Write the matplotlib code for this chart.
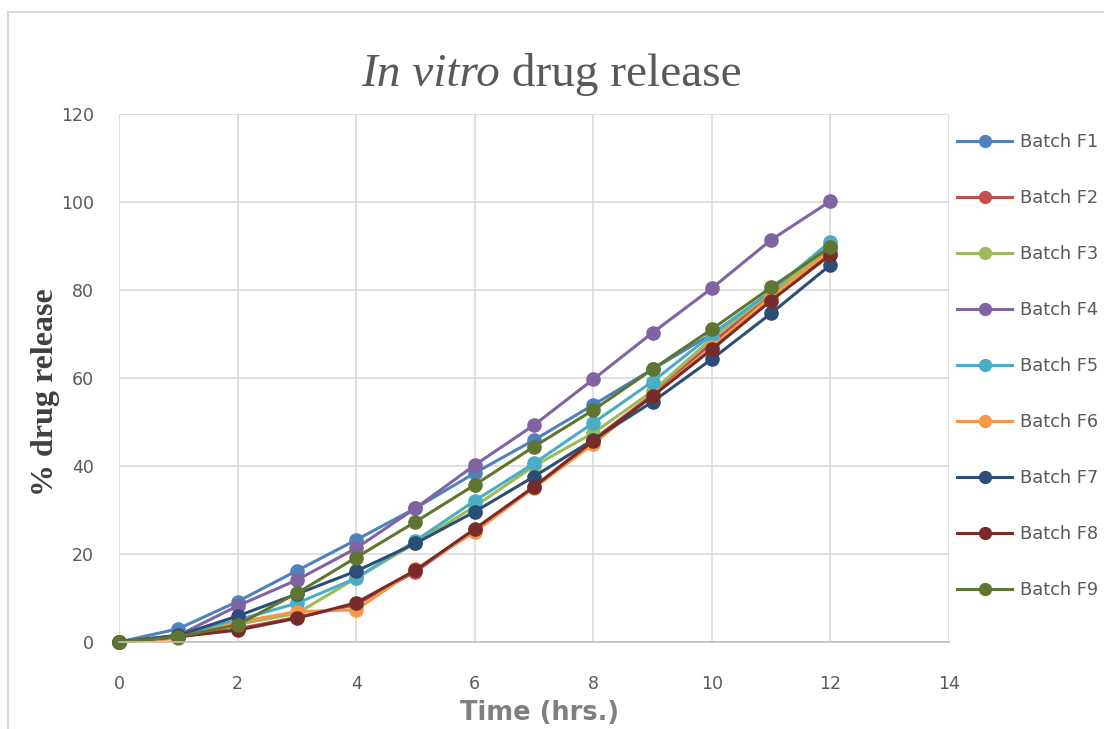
import matplotlib
matplotlib.use("Agg")
import matplotlib.pyplot as plt
from matplotlib.patches import Rectangle

time_hrs = [0, 1, 2, 3, 4, 5, 6, 7, 8, 9, 10, 11, 12]
batch_names = ["Batch F1", "Batch F2", "Batch F3", "Batch F4", "Batch F5",
               "Batch F6", "Batch F7", "Batch F8", "Batch F9"]
f1 = [0, 3.0, 9.2, 16.2, 23.2, 30.4, 38.4, 45.9, 53.9, 62.0, 70.0, 79.5, 90.0]
f2 = [0, 1.2, 3.0, 5.6, 8.5, 16.0, 25.4, 35.2, 46.0, 56.2, 68.0, 78.8, 88.5]
f3 = [0, 1.0, 4.0, 6.5, 14.5, 22.5, 30.8, 40.0, 47.5, 57.0, 69.0, 79.5, 89.5]
f4 = [0, 1.5, 8.2, 14.1, 21.3, 30.4, 40.2, 49.3, 59.7, 70.3, 80.4, 91.4, 100.2]
f5 = [0, 1.5, 5.0, 8.8, 14.5, 23.0, 32.1, 40.6, 49.8, 59.2, 69.8, 79.8, 91.0]
f6 = [0, 0.8, 4.5, 6.9, 7.3, 16.5, 25.0, 35.0, 45.0, 56.0, 67.0, 78.5, 89.0]
f7 = [0, 1.5, 5.9, 10.9, 16.1, 22.4, 29.6, 37.6, 46.0, 54.6, 64.3, 74.7, 85.7]
f8 = [0, 1.2, 2.7, 5.4, 8.9, 16.3, 25.7, 35.3, 45.7, 55.9, 66.5, 77.6, 88.0]
f9 = [0, 1.2, 3.9, 11.1, 19.2, 27.3, 35.7, 44.4, 52.7, 62.0, 71.1, 80.6, 89.8]
series = [f1, f2, f3, f4, f5, f6, f7, f8, f9]
colors = ["#4F81BD", "#C0504D", "#9BBB59", "#8064A2", "#4BACC6",
          "#F79646", "#2C4D75", "#772C2A", "#5F7530"]
x_ticks = [0, 2, 4, 6, 8, 10, 12, 14]
y_ticks = [0, 20, 40, 60, 80, 100, 120]

W, H = 1104, 729
fig = plt.figure(figsize=(W / 100, H / 100), dpi=100)
fig.patch.set_facecolor("white")

# chart border
fig.patches.append(Rectangle((8 / W, -0.01), (W - 8) / W + 0.02, (H - 12) / H + 0.01,
                             transform=fig.transFigure, fill=False,
                             edgecolor="#D9D9D9", linewidth=1.5))

ax = fig.add_axes([119 / W, (H - 642) / H, (949 - 119) / W, (642 - 114) / H])
for name, vals, c in zip(batch_names, series, colors):
    ax.plot(time_hrs, vals, color=c, linewidth=2.2, marker="o",
            markersize=9.5, label=name, clip_on=False)

ax.set_xlim(0, 14)
ax.set_ylim(0, 120)
ax.set_xticks(x_ticks)
ax.set_yticks(y_ticks)
ax.grid(True, color="#D9D9D9", linewidth=1.2)
ax.set_axisbelow(True)
for s in ["top", "right", "left"]:
    ax.spines[s].set_visible(False)
ax.spines["bottom"].set_color("#BFBFBF")
ax.spines["bottom"].set_linewidth(1.2)
ax.tick_params(length=0, labelsize=12.5, labelcolor="#595959")
ax.tick_params(axis="x", pad=24)
ax.tick_params(axis="y", pad=18)

ax.set_ylabel("% drug release", family="Liberation Serif", fontweight="bold",
              fontsize=23, color="#404040")
ax.yaxis.set_label_coords(46 / W, (H - 392) / H, transform=fig.transFigure)
ax.yaxis.label.set_va("center")
ax.set_xlabel("Time (hrs.)", family="DejaVu Sans", fontweight="bold",
              fontsize=18.5, color="#7F7F7F")
ax.xaxis.set_label_coords(540 / W, (H - 713) / H, transform=fig.transFigure)
ax.xaxis.label.set_va("center")

t1 = fig.text(500 / W, (H - 96) / H, "In vitro", family="Liberation Serif",
              style="italic", fontsize=34, color="#595959", ha="right", va="bottom")
ax.annotate(" drug release", xy=(1, 0), xycoords=t1, ha="left", va="bottom",
            family="Liberation Serif", fontsize=34, color="#595959",
            annotation_clip=False)

leg = fig.legend(loc="upper left", bbox_to_anchor=(941 / W, (H - 117) / H),
                 frameon=False, fontsize=12.8, handlelength=3.1,
                 handletextpad=0.45, labelspacing=2.14, markerscale=0.9)
for t in leg.get_texts():
    t.set_color("#595959")

fig.savefig("out.png", dpi=100)
